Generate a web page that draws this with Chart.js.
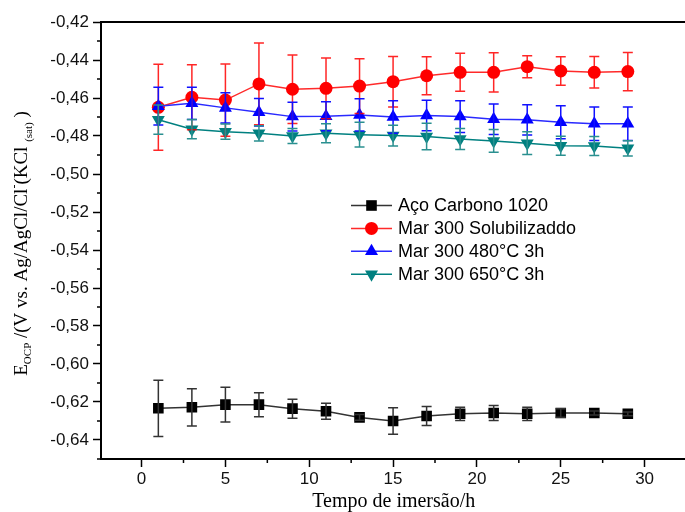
<!DOCTYPE html>
<html><head><meta charset="utf-8">
<script src="https://cdn.jsdelivr.net/npm/chart.js@4.4.1/dist/chart.umd.min.js"></script>
<style>
html,body{margin:0;padding:0;background:#fff;overflow:hidden;width:685px;height:512px}
#wrap{position:absolute;left:0;top:0;width:694px;height:512px}
</style>
</head><body>
<div id="wrap"><canvas id="c" width="694" height="512"></canvas></div>
<script>
// ---- data ----
const hours = [1, 3, 5, 7, 9, 11, 13, 15, 17, 19, 21, 23, 25, 27, 29];
const seriesNames = ['Aço Carbono 1020', 'Mar 300 Solubilizaddo', 'Mar 300 480°C 3h', 'Mar 300 650°C 3h'];
const aco1020 = [-0.6233, -0.6228, -0.6214, -0.6214, -0.6235, -0.6249, -0.6281, -0.6300, -0.6274, -0.6262, -0.6258, -0.6262, -0.6258, -0.6258, -0.6262];
const aco1020Err = [0.0148, 0.0098, 0.0091, 0.0063, 0.0050, 0.0042, 0.0015, 0.0070, 0.0050, 0.0035, 0.0040, 0.0035, 0.0022, 0.0010, 0.0010];
const solubilizado = [-0.4649, -0.4596, -0.4611, -0.4526, -0.4554, -0.4549, -0.4537, -0.4514, -0.4483, -0.4465, -0.4465, -0.4435, -0.4458, -0.4465, -0.4461];
const solubilizadoErr = [0.0226, 0.0171, 0.0190, 0.0215, 0.0180, 0.0160, 0.0144, 0.0133, 0.0100, 0.0100, 0.0103, 0.0058, 0.0075, 0.0083, 0.0101];
const t480 = [-0.4643, -0.4628, -0.4652, -0.4675, -0.4698, -0.4696, -0.4689, -0.4700, -0.4692, -0.4698, -0.4712, -0.4715, -0.4728, -0.4736, -0.4736];
const t480Err = [0.0099, 0.0085, 0.0080, 0.0073, 0.0076, 0.0076, 0.0085, 0.0085, 0.0080, 0.0084, 0.0080, 0.0080, 0.0087, 0.0088, 0.0088];
const t650 = [-0.4714, -0.4764, -0.4777, -0.4786, -0.4800, -0.4786, -0.4793, -0.4798, -0.4803, -0.4816, -0.4826, -0.4838, -0.4851, -0.4853, -0.4865];
const t650Err = [0.0077, 0.0051, 0.0040, 0.0040, 0.0040, 0.0050, 0.0065, 0.0055, 0.0070, 0.0055, 0.0060, 0.0060, 0.0050, 0.0050, 0.0040];
const xTicks = [0, 5, 10, 15, 20, 25, 30];
const xMinorTicks = [2.5, 7.5, 12.5, 17.5, 22.5, 27.5];
const yTicks = [-0.64, -0.62, -0.60, -0.58, -0.56, -0.54, -0.52, -0.50, -0.48, -0.46, -0.44, -0.42];
const yMinorTicks = [-0.65, -0.63, -0.61, -0.59, -0.57, -0.55, -0.53, -0.51, -0.49, -0.47, -0.45, -0.43];

const pts = (vals) => hours.map((h, i) => ({x: h, y: vals[i]}));

const styles = [
  {line: '#333333', fill: '#000000', err: '#333333', shape: 'rect', r: 7.5, rot: 0},
  {line: '#ff2a2a', fill: '#ff0000', err: 'rgba(255,0,0,0.85)', shape: 'circle', r: 6.5, rot: 0},
  {line: '#2a2aff', fill: '#0000ff', err: '#1010ff', shape: 'triangle', r: 7.5, rot: 0},
  {line: '#008080', fill: '#008080', err: '#2a9090', shape: 'triangle', r: 7.5, rot: 180}
];
const values = [aco1020, solubilizado, t480, t650];
const errs = [aco1020Err, solubilizadoErr, t480Err, t650Err];

const datasets = values.map((v, i) => ({
  label: seriesNames[i],
  data: pts(v),
  errors: errs[i],
  errColor: styles[i].err,
  borderColor: styles[i].line,
  backgroundColor: styles[i].fill,
  pointBackgroundColor: styles[i].fill,
  pointBorderColor: styles[i].fill,
  pointBorderWidth: 0,
  pointStyle: styles[i].shape,
  pointRadius: styles[i].r,
  pointRotation: styles[i].rot,
  borderWidth: 1.5,
  tension: 0,
  order: 4 - i
}));

const errorBars = {
  id: 'errorBars',
  afterDatasetsDraw(chart) {
    const {ctx, scales: {y}} = chart;
    chart.data.datasets.forEach((ds, i) => {
      const meta = chart.getDatasetMeta(i);
      ctx.save();
      ctx.strokeStyle = ds.errColor;
      ctx.lineWidth = 1.5;
      meta.data.forEach((pt, j) => {
        const e = ds.errors[j], v = ds.data[j].y;
        const yt = y.getPixelForValue(v + e), yb = y.getPixelForValue(v - e);
        const x = pt.x;
        ctx.beginPath();
        ctx.moveTo(x, yt); ctx.lineTo(x, yb);
        ctx.moveTo(x - 5, yt); ctx.lineTo(x + 5, yt);
        ctx.moveTo(x - 5, yb); ctx.lineTo(x + 5, yb);
        ctx.stroke();
      });
      ctx.restore();
    });
  }
};

const decor = {
  id: 'decor',
  afterDraw(chart) {
    const {ctx, chartArea: a, scales: {x, y}} = chart;
    ctx.save();
    ctx.strokeStyle = '#000';
    ctx.lineWidth = 2;
    ctx.beginPath(); ctx.moveTo(a.left - 1, a.top); ctx.lineTo(a.right, a.top); ctx.stroke();
    ctx.lineWidth = 1.5;
    xMinorTicks.forEach(v => {
      const px = x.getPixelForValue(v);
      ctx.beginPath(); ctx.moveTo(px, a.bottom); ctx.lineTo(px, a.bottom + 4); ctx.stroke();
    });
    yMinorTicks.forEach(v => {
      const py = y.getPixelForValue(v);
      ctx.beginPath(); ctx.moveTo(a.left, py); ctx.lineTo(a.left - 4, py); ctx.stroke();
    });

    // y axis title with sub/superscripts
    const runs = [
      {t: 'E', s: 19, dy: 0},
      {t: 'OCP', s: 11, dy: 4},
      {t: ' /(V vs. Ag/AgCl/Cl', s: 19, dy: 0},
      {t: '-', s: 12, dy: -9},
      {t: '(KCl ', s: 19, dy: 0},
      {t: '(sat)', s: 11, dy: 5},
      {t: ' )', s: 19, dy: 0}
    ];
    let total = 0;
    runs.forEach(r => { ctx.font = r.s + 'px "Liberation Serif"'; r.w = ctx.measureText(r.t).width; total += r.w; });
    ctx.translate(27, (a.top + a.bottom) / 2 + 3);
    ctx.rotate(-Math.PI / 2);
    ctx.fillStyle = '#000';
    ctx.textBaseline = 'alphabetic';
    let cx = -total / 2;
    runs.forEach(r => { ctx.font = r.s + 'px "Liberation Serif"'; ctx.fillText(r.t, cx, r.dy); cx += r.w; });
    ctx.restore();

    // legend
    ctx.save();
    chart.data.datasets.forEach((ds, i) => {
      const ly = 205.5 + i * 22.9;
      ctx.strokeStyle = ds.borderColor;
      ctx.lineWidth = 1.5;
      ctx.beginPath(); ctx.moveTo(351, ly); ctx.lineTo(392, ly); ctx.stroke();
      ctx.fillStyle = ds.pointBackgroundColor;
      Chart.helpers.drawPoint(ctx, {pointStyle: ds.pointStyle, radius: ds.pointRadius, rotation: ds.pointRotation, borderWidth: 0}, 371.5, ly);
      ctx.fillStyle = '#000';
      ctx.font = '18px "Liberation Sans"';
      ctx.textBaseline = 'middle';
      ctx.fillText(ds.label, 398, ly + 1);
    });
    ctx.restore();
  }
};

new Chart(document.getElementById('c'), {
  type: 'line',
  data: {datasets},
  options: {
    responsive: false,
    animation: false,
    devicePixelRatio: 1,
    layout: {padding: {left: 0, right: 1, top: 22, bottom: 0}},
    plugins: {legend: {display: false}, tooltip: {enabled: false}},
    scales: {
      x: {
        type: 'linear', min: -2.42, max: 32.5,
        afterBuildTicks: s => { s.ticks = xTicks.map(v => ({value: v})); },
        afterFit: s => { s.height = 53; },
        grid: {drawOnChartArea: false, drawTicks: true, tickLength: 8, tickWidth: 1.5, tickColor: '#000'},
        border: {display: true, color: '#000', width: 2},
        ticks: {color: '#111', font: {family: 'Liberation Sans', size: 17}, padding: 2, maxRotation: 0,
          callback: v => String(v)},
        title: {display: true, text: 'Tempo de imersão/h', color: '#000',
          font: {family: 'Liberation Serif', size: 20, lineHeight: 1.0}, padding: {top: 0, bottom: 0}}
      },
      y: {
        type: 'linear', min: -0.65, max: -0.42,
        afterBuildTicks: s => { s.ticks = yTicks.map(v => ({value: v})); },
        afterFit: s => { s.width = 101; },
        grid: {drawOnChartArea: false, drawTicks: true, tickLength: 8, tickWidth: 1.5, tickColor: '#000'},
        border: {display: true, color: '#000', width: 2},
        ticks: {color: '#111', font: {family: 'Liberation Sans', size: 17}, padding: 4,
          callback: v => v.toFixed(2).replace('.', ',')}
      }
    }
  },
  plugins: [errorBars, decor]
});
</script>
</body></html>
